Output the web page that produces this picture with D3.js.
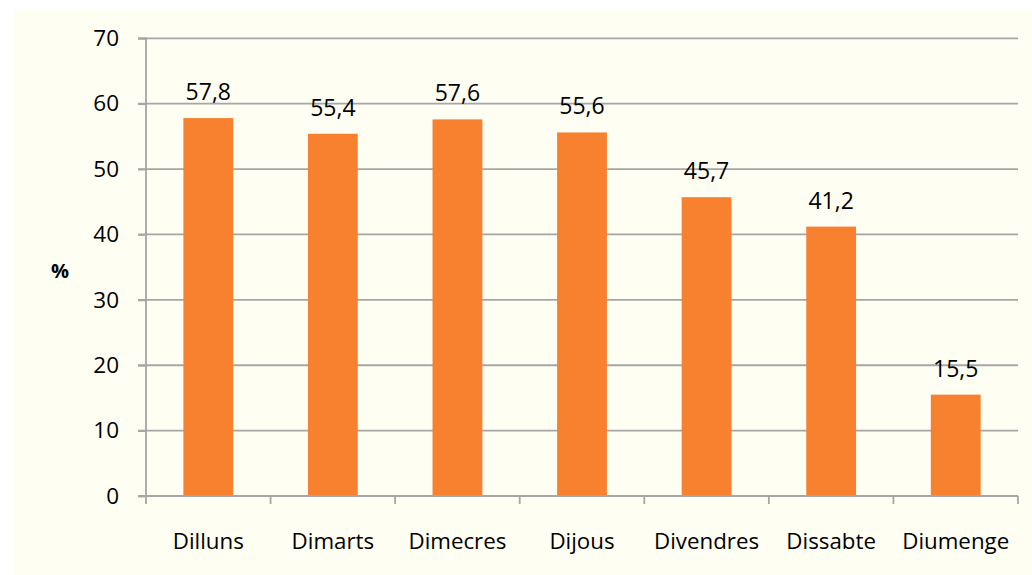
<!DOCTYPE html>
<html>
<head>
<meta charset="utf-8">
<script src="https://cdn.jsdelivr.net/npm/d3@7"></script>
<style>
  html, body { margin: 0; padding: 0; background: #ffffff; }
  svg { display: block; }
</style>
</head>
<body>
<script>
const categories = ["Dilluns", "Dimarts", "Dimecres", "Dijous", "Divendres", "Dissabte", "Diumenge"];
const values = [57.8, 55.4, 57.6, 55.6, 45.7, 41.2, 15.5];
const valueLabels = ["57,8", "55,4", "57,6", "55,6", "45,7", "41,2", "15,5"];
const yTicks = [0, 10, 20, 30, 40, 50, 60, 70];
const yAxisTitle = "%";

(function () {
const W = 1032, H = 575;
const font = "'Open Sans', 'Noto Sans', sans-serif";
const svg = d3.select("body").append("svg").attr("width", W).attr("height", H);

svg.append("rect").attr("x", 13).attr("y", 9).attr("width", W - 13).attr("height", H - 9)
  .attr("fill", "#FFFEF3");

const pL = 146, pR = 1018, pT = 38.3, pB = 496;
const x = d3.scaleBand().domain(categories).range([pL, pR]).paddingInner(0.6).paddingOuter(0.3);
const y = d3.scaleLinear().domain([0, 70]).range([pB, pT]);
const gridColor = "#A6A6A6";

// gridlines
svg.append("g").selectAll("line").data(yTicks.filter(d => d > 0)).join("line")
  .attr("x1", pL - 8).attr("x2", pR)
  .attr("y1", d => y(d)).attr("y2", d => y(d))
  .attr("stroke", gridColor).attr("stroke-width", 1.8);

// bars
svg.append("g").selectAll("rect").data(values).join("rect")
  .attr("x", (d, i) => x(categories[i]))
  .attr("width", x.bandwidth())
  .attr("y", d => y(d))
  .attr("height", d => pB - y(d))
  .attr("fill", "#F7812F");

// y axis
const yAxis = d3.axisLeft(y).tickValues(yTicks).tickSize(8).tickPadding(19).tickFormat(d3.format("d"));
const gy = svg.append("g").attr("transform", `translate(${pL},0)`).call(yAxis);
gy.select(".domain").attr("stroke", gridColor).attr("stroke-width", 1.8).attr("d", `M-8,${pT}H0V${pB}H-8`);
gy.selectAll(".tick line").attr("stroke", gridColor).attr("stroke-width", 1.8);
gy.selectAll(".tick text").attr("font-family", font).attr("font-size", 22.5).attr("fill", "#000");

// x axis
const step = x.step();
const xEdges = d3.range(categories.length + 1).map(i => pL + i * step);
svg.append("line").attr("x1", pL).attr("x2", pR).attr("y1", pB).attr("y2", pB)
  .attr("stroke", gridColor).attr("stroke-width", 1.8);
svg.append("g").selectAll("line").data(xEdges).join("line")
  .attr("x1", d => d).attr("x2", d => d).attr("y1", pB).attr("y2", pB + 8)
  .attr("stroke", gridColor).attr("stroke-width", 1.8);

svg.append("g").selectAll("text").data(categories).join("text")
  .attr("x", d => x(d) + x.bandwidth() / 2)
  .attr("y", 549)
  .attr("text-anchor", "middle")
  .attr("font-family", font).attr("font-size", 22.3).attr("fill", "#000")
  .text(d => d);

// value labels
svg.append("g").selectAll("text").data(values).join("text")
  .attr("x", (d, i) => x(categories[i]) + x.bandwidth() / 2)
  .attr("y", d => y(d) - 18)
  .attr("text-anchor", "middle")
  .attr("font-family", font).attr("font-size", 23).attr("fill", "#000")
  .text((d, i) => valueLabels[i]);

// y title
svg.append("text").attr("x", 60).attr("y", 278).attr("text-anchor", "middle")
  .attr("font-family", font).attr("font-size", 20).attr("font-weight", "bold").attr("fill", "#000")
  .text(yAxisTitle);
})();
</script>
</body>
</html>
